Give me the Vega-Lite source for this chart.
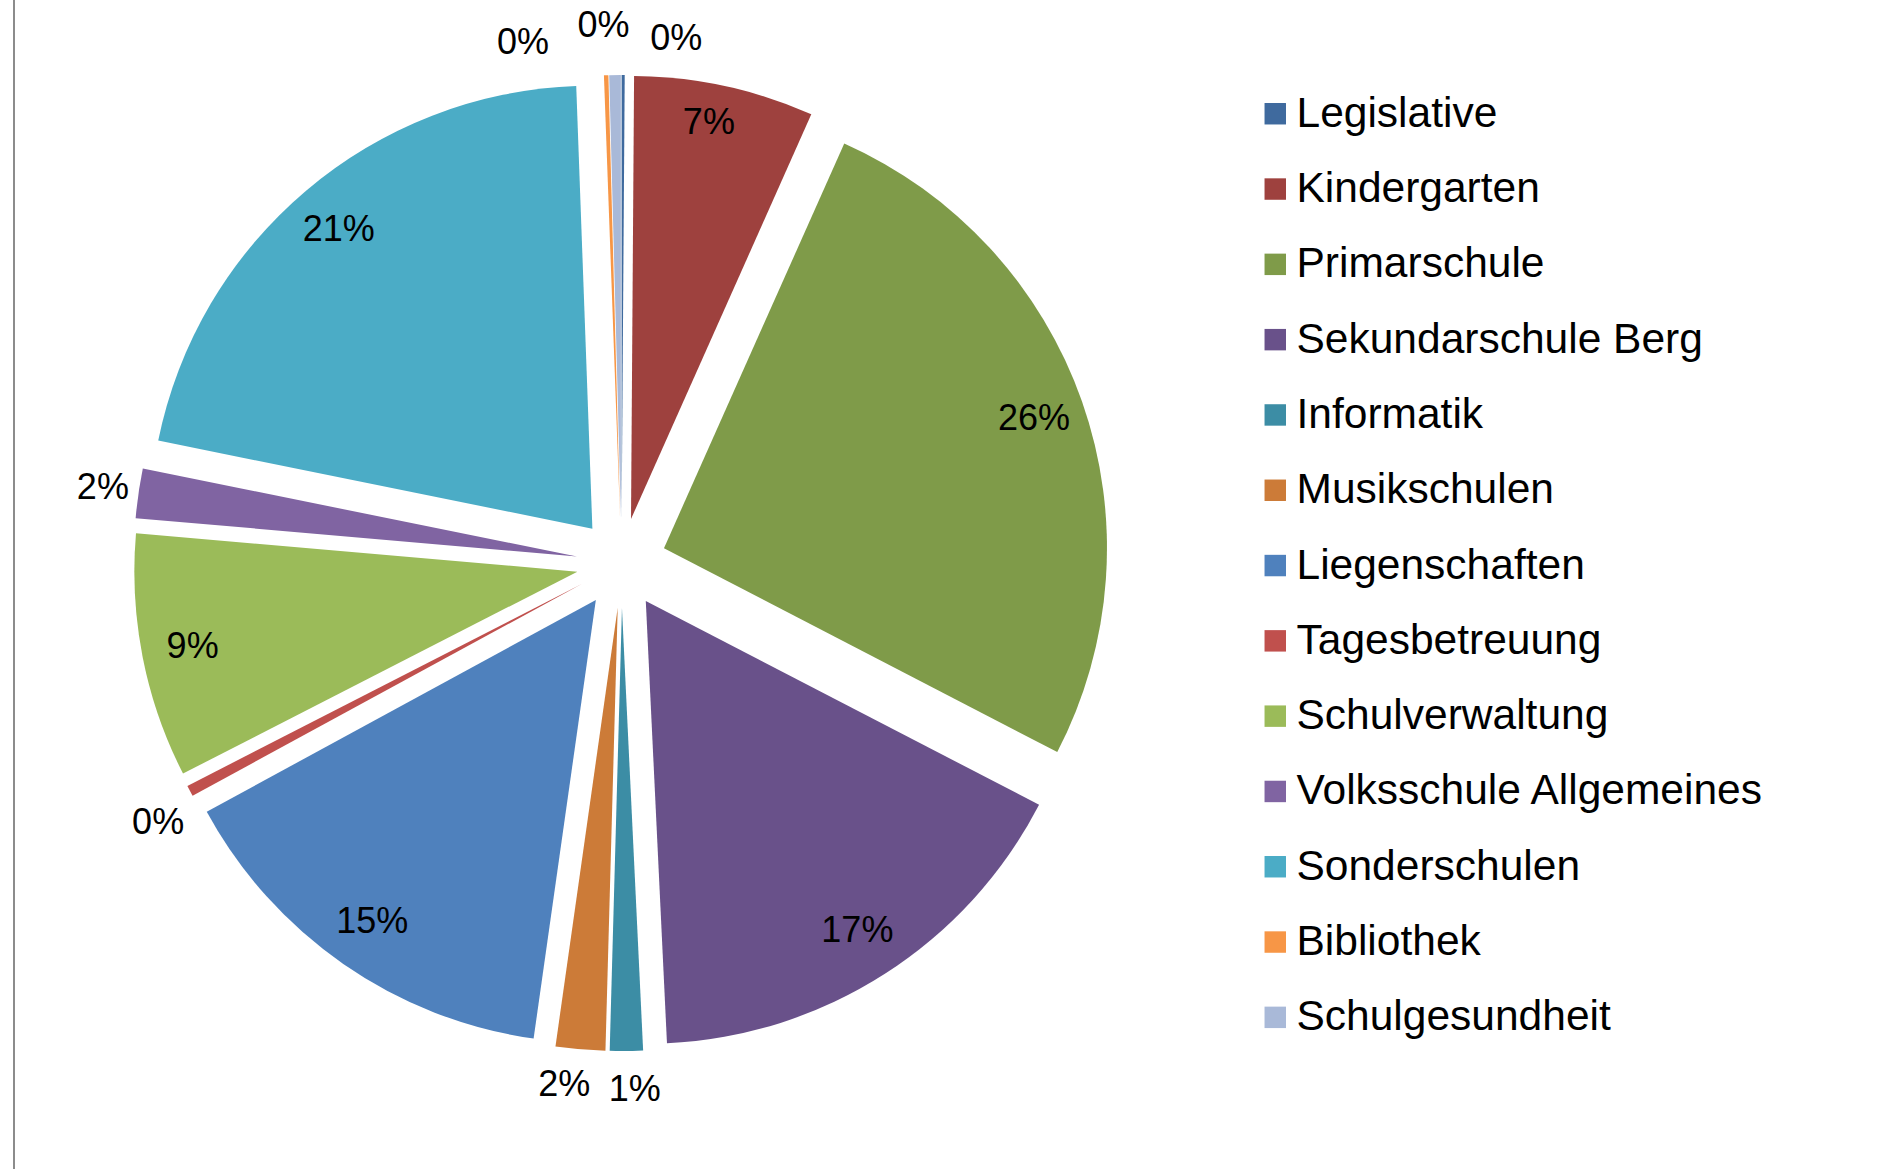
{
  "$schema": "https://vega.github.io/schema/vega-lite/v6.json",
  "width": 1901,
  "height": 1169,
  "autosize": {"type": "none"},
  "padding": 0,
  "background": "white",
  "config": {"view": {"stroke": null}, "font": "Liberation Sans"},
  "layer": [
    {
      "data": {"values": [{"line": "border"}]},
      "mark": {"type": "rule", "color": "#8c8c8c", "strokeWidth": 2},
      "encoding": {
        "x": {"datum": -607.5, "type": "quantitative", "scale": {"domain": [-621.5, 1279.5], "nice": false, "zero": false}, "axis": null}
      }
    },
    {
      "data": {
        "values": [
          {"o": 1, "name": "Legislative", "v": 0.11},
          {"o": 2, "name": "Kindergarten", "v": 6.55},
          {"o": 3, "name": "Primarschule", "v": 25.9},
          {"o": 4, "name": "Sekundarschule Berg", "v": 16.6},
          {"o": 5, "name": "Informatik", "v": 1.2},
          {"o": 6, "name": "Musikschulen", "v": 1.8},
          {"o": 7, "name": "Liegenschaften", "v": 14.8},
          {"o": 8, "name": "Tagesbetreuung", "v": 0.4},
          {"o": 9, "name": "Schulverwaltung", "v": 8.9},
          {"o": 10, "name": "Volksschule Allgemeines", "v": 1.8},
          {"o": 11, "name": "Sonderschulen", "v": 21.2},
          {"o": 12, "name": "Bibliothek", "v": 0.16},
          {"o": 13, "name": "Schulgesundheit", "v": 0.42}
        ]
      },
      "transform": [
        {"joinaggregate": [{"op": "sum", "field": "v", "as": "total"}]},
        {"window": [{"op": "sum", "field": "v", "as": "cum"}], "sort": [{"field": "o"}], "frame": [null, 0]},
        {"calculate": "datum.v / datum.total", "as": "p"},
        {"calculate": "datum.cum / datum.total", "as": "c1"},
        {"calculate": "(datum.cum - datum.v) / datum.total", "as": "c0"},
        {"calculate": "(datum.cum - datum.v / 2) / datum.total", "as": "cm"},
        {"calculate": "45 * sin(2 * PI * datum.cm)", "as": "ex"},
        {"calculate": "45 * cos(2 * PI * datum.cm)", "as": "ey"}
      ],
      "encoding": {
        "x": {"field": "ex", "type": "quantitative", "scale": {"domain": [-621.5, 1279.5], "nice": false, "zero": false}, "axis": null},
        "y": {"field": "ey", "type": "quantitative", "scale": {"domain": [-606, 563], "nice": false, "zero": false}, "axis": null}
      },
      "layer": [
        {
          "mark": {"type": "arc", "outerRadius": 443, "innerRadius": 0},
          "encoding": {
            "theta": {"field": "c0", "type": "quantitative", "stack": null, "scale": {"domain": [0, 1], "range": [0, 6.283185307179586], "zero": false, "nice": false}},
            "theta2": {"field": "c1"},
            "color": {
              "field": "name",
              "type": "nominal",
              "sort": null,
              "scale": {
                "domain": ["Legislative", "Kindergarten", "Primarschule", "Sekundarschule Berg", "Informatik", "Musikschulen", "Liegenschaften", "Tagesbetreuung", "Schulverwaltung", "Volksschule Allgemeines", "Sonderschulen", "Bibliothek", "Schulgesundheit"],
                "range": ["#3F6A9E", "#9E413E", "#7F9B49", "#69518A", "#3C8DA5", "#CC7B38", "#4F81BD", "#C0504D", "#9BBB59", "#8064A2", "#4BACC6", "#F79646", "#A9B9D8"]
              },
              "legend": {
                "title": null,
                "orient": "none",
                "legendX": 1254,
                "legendY": 92.5,
                "padding": 0,
                "symbolType": "square",
                "symbolSize": 460,
                "symbolStrokeWidth": 0,
                "labelFontSize": 42.5,
                "labelFont": "Liberation Sans",
                "labelColor": "#000000",
                "labelOffset": 0,
                "labelLimit": 800,
                "rowPadding": 32.3
              }
            }
          }
        },
        {
          "transform": [{"filter": "datum.p >= 0.05 && datum.name != 'Kindergarten'"}],
          "mark": {"type": "text", "radius": 392, "fontSize": 36, "font": "Liberation Sans", "color": "#000000", "align": "center", "baseline": "middle"},
          "encoding": {
            "theta": {"field": "cm", "type": "quantitative", "stack": null},
            "text": {"field": "p", "type": "quantitative", "format": ".0%"}
          }
        },
        {
          "transform": [{"filter": "datum.name == 'Kindergarten'"}],
          "mark": {"type": "text", "radius": 392, "dx": -5, "dy": -13, "fontSize": 36, "font": "Liberation Sans", "color": "#000000", "align": "center", "baseline": "middle"},
          "encoding": {
            "theta": {"field": "cm", "type": "quantitative", "stack": null},
            "text": {"field": "p", "type": "quantitative", "format": ".0%"}
          }
        },
        {
          "transform": [{"filter": "datum.name == 'Volksschule Allgemeines'"}],
          "mark": {"type": "text", "radius": 479, "fontSize": 36, "font": "Liberation Sans", "color": "#000000", "align": "center", "baseline": "middle"},
          "encoding": {
            "theta": {"field": "cm", "type": "quantitative", "stack": null},
            "text": {"field": "p", "type": "quantitative", "format": ".0%"}
          }
        },
        {
          "transform": [{"filter": "datum.name == 'Musikschulen'"}],
          "mark": {"type": "text", "radius": 479, "dx": -13, "fontSize": 36, "font": "Liberation Sans", "color": "#000000", "align": "center", "baseline": "middle"},
          "encoding": {
            "theta": {"field": "cm", "type": "quantitative", "stack": null},
            "text": {"field": "p", "type": "quantitative", "format": ".0%"}
          }
        },
        {
          "transform": [{"filter": "datum.name == 'Informatik'"}],
          "mark": {"type": "text", "radius": 479, "dx": 8, "dy": 3, "fontSize": 36, "font": "Liberation Sans", "color": "#000000", "align": "center", "baseline": "middle"},
          "encoding": {
            "theta": {"field": "cm", "type": "quantitative", "stack": null},
            "text": {"field": "p", "type": "quantitative", "format": ".0%"}
          }
        },
        {
          "transform": [{"filter": "datum.name == 'Tagesbetreuung'"}],
          "mark": {"type": "text", "radius": 479, "dy": 15, "fontSize": 36, "font": "Liberation Sans", "color": "#000000", "align": "center", "baseline": "middle"},
          "encoding": {
            "theta": {"field": "cm", "type": "quantitative", "stack": null},
            "text": {"field": "p", "type": "quantitative", "format": ".0%"}
          }
        },
        {
          "transform": [{"filter": "datum.name == 'Legislative'"}],
          "mark": {"type": "text", "radius": 479, "dx": 53, "fontSize": 36, "font": "Liberation Sans", "color": "#000000", "align": "center", "baseline": "middle"},
          "encoding": {
            "theta": {"field": "cm", "type": "quantitative", "stack": null},
            "text": {"field": "p", "type": "quantitative", "format": ".0%"}
          }
        },
        {
          "transform": [{"filter": "datum.name == 'Schulgesundheit'"}],
          "mark": {"type": "text", "radius": 479, "dx": -11, "dy": -13, "fontSize": 36, "font": "Liberation Sans", "color": "#000000", "align": "center", "baseline": "middle"},
          "encoding": {
            "theta": {"field": "cm", "type": "quantitative", "stack": null},
            "text": {"field": "p", "type": "quantitative", "format": ".0%"}
          }
        },
        {
          "transform": [{"filter": "datum.name == 'Bibliothek'"}],
          "mark": {"type": "text", "radius": 479, "dx": -82, "dy": 4, "fontSize": 36, "font": "Liberation Sans", "color": "#000000", "align": "center", "baseline": "middle"},
          "encoding": {
            "theta": {"field": "cm", "type": "quantitative", "stack": null},
            "text": {"field": "p", "type": "quantitative", "format": ".0%"}
          }
        }
      ]
    }
  ]
}
